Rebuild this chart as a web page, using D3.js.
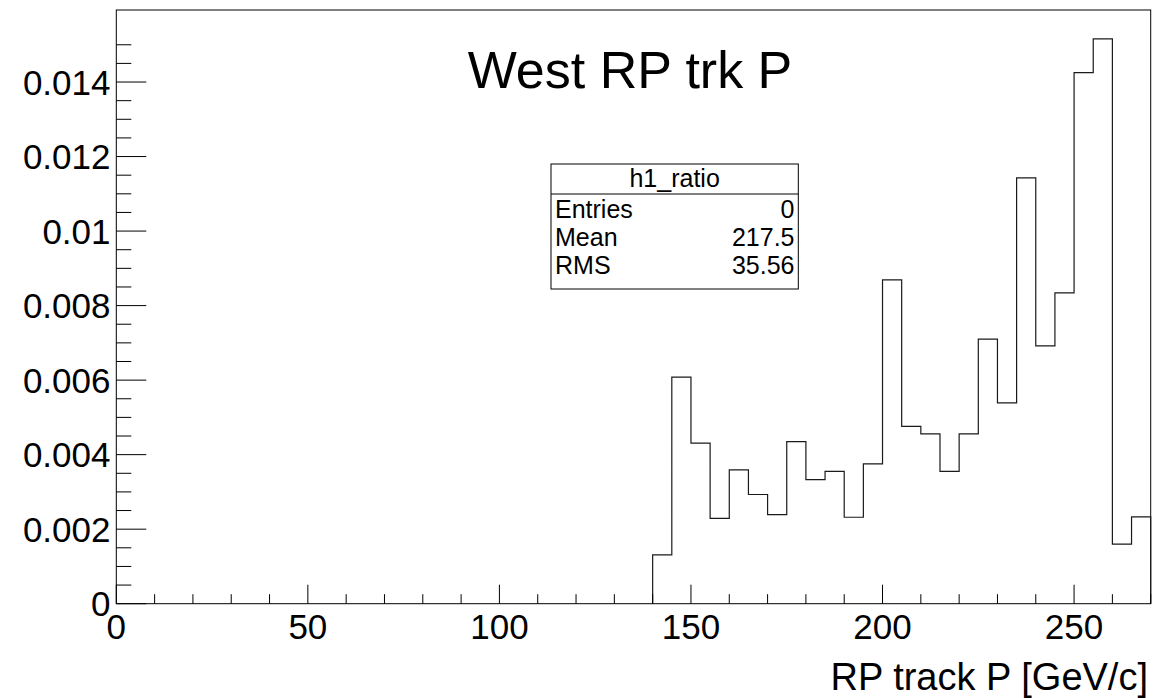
<!DOCTYPE html>
<html>
<head>
<meta charset="utf-8">
<script src="https://cdn.jsdelivr.net/npm/d3@7"></script>
<style>
  html, body { margin: 0; padding: 0; background: #fff; }
  svg text { font-family: "Liberation Sans", Arial, Helvetica, sans-serif; fill: #000; }
</style>
</head>
<body>
<script>
// histogram h1_ratio, 5 GeV/c bins from 140 to 270
const binLow = [140, 145, 150, 155, 160, 165, 170, 175, 180, 185, 190, 195, 200,
                205, 210, 215, 220, 225, 230, 235, 240, 245, 250, 255, 260, 265];
const binWidth = 5;
const counts = [0.00131, 0.00608, 0.00431, 0.00229, 0.00359, 0.00293, 0.00239, 0.00435,
                0.00333, 0.00355, 0.00232, 0.00375, 0.00869, 0.00476, 0.00456, 0.00355,
                0.00456, 0.00710, 0.00539, 0.01143, 0.00692, 0.00834, 0.01425, 0.01516,
                0.00160, 0.00233];
const xMajor = [0, 50, 100, 150, 200, 250];
const yMajor = [0, 0.002, 0.004, 0.006, 0.008, 0.01, 0.012, 0.014];
const yLabels = ['0', '0.002', '0.004', '0.006', '0.008', '0.01', '0.012', '0.014'];
const statsRows = [['Entries', '0'], ['Mean', '217.5'], ['RMS', '35.56']];

const width = 1155, height = 698;
const frame = { left: 116.3, right: 1150.7, top: 10, bottom: 603.7 };

const svg = d3.select('body').append('svg')
    .attr('width', width)
    .attr('height', height);

const x = d3.scaleLinear().domain([0, 270]).range([frame.left, frame.right]);
const y = d3.scaleLinear().domain([0, 0.015933]).range([frame.bottom, frame.top]);

// frame
svg.append('rect')
    .attr('x', frame.left).attr('y', frame.top)
    .attr('width', frame.right - frame.left)
    .attr('height', frame.bottom - frame.top)
    .attr('fill', 'none').attr('stroke', '#000').attr('stroke-width', 1);

// histogram outline
const pts = [[binLow[0], 0]];
counts.forEach((c, i) => {
    pts.push([binLow[i], c]);
    pts.push([binLow[i] + binWidth, c]);
});
pts.push([binLow[binLow.length - 1] + binWidth, 0]);

svg.append('path')
    .attr('d', d3.line().x(d => x(d[0])).y(d => y(d[1]))(pts))
    .attr('fill', 'none')
    .attr('stroke', '#1a1a1a')
    .attr('stroke-width', 1.2);

// x axis ticks
const xMinor = d3.range(0, 271, 10);
svg.append('g').selectAll('line')
    .data(xMinor)
    .join('line')
    .attr('x1', d => x(d)).attr('x2', d => x(d))
    .attr('y1', frame.bottom)
    .attr('y2', d => frame.bottom - (d % 50 === 0 ? 19 : 9.5))
    .attr('stroke', '#000').attr('stroke-width', 1);

svg.append('g').selectAll('text')
    .data(xMajor)
    .join('text')
    .attr('x', d => x(d))
    .attr('y', 639)
    .attr('text-anchor', 'middle')
    .attr('font-size', 35)
    .text(d => d);

// y axis ticks
const yMinor = d3.range(0, 31).map(i => i * 0.0005 + 0.0);
svg.append('g').selectAll('line')
    .data(yMinor.filter(d => y(d) >= frame.top))
    .join('line')
    .attr('x1', frame.left)
    .attr('x2', (d, i) => frame.left + (i % 4 === 0 ? 30 : 15))
    .attr('y1', d => y(d)).attr('y2', d => y(d))
    .attr('stroke', '#000').attr('stroke-width', 1);

svg.append('g').selectAll('text')
    .data(yMajor)
    .join('text')
    .attr('x', 110.5)
    .attr('y', d => y(d))
    .attr('dy', '0.36em')
    .attr('text-anchor', 'end')
    .attr('font-size', 35)
    .text((d, i) => yLabels[i]);

// axis title
svg.append('text')
    .attr('x', 1148)
    .attr('y', 690)
    .attr('text-anchor', 'end')
    .attr('font-size', 38)
    .text('RP track P [GeV/c]');

// histogram title
svg.append('text')
    .attr('x', 630)
    .attr('y', 88)
    .attr('text-anchor', 'middle')
    .attr('font-size', 52)
    .text('West RP trk P');

// stats box
const box = { x: 551, y: 164, w: 247.3, h: 125 };
const stats = svg.append('g');
stats.append('rect')
    .attr('x', box.x).attr('y', box.y)
    .attr('width', box.w).attr('height', box.h)
    .attr('fill', '#fff').attr('stroke', '#000').attr('stroke-width', 1);
stats.append('line')
    .attr('x1', box.x).attr('x2', box.x + box.w)
    .attr('y1', 194).attr('y2', 194)
    .attr('stroke', '#000').attr('stroke-width', 1);
stats.append('text')
    .attr('x', box.x + box.w / 2)
    .attr('y', 186.7)
    .attr('text-anchor', 'middle')
    .attr('font-size', 25)
    .text('h1_ratio');
statsRows.forEach((r, i) => {
    const by = 218.3 + i * 27.85;
    stats.append('text')
        .attr('x', 555).attr('y', by)
        .attr('font-size', 25)
        .text(r[0]);
    stats.append('text')
        .attr('x', 794.5).attr('y', by)
        .attr('text-anchor', 'end')
        .attr('font-size', 25)
        .text(r[1]);
});
</script>
</body>
</html>
